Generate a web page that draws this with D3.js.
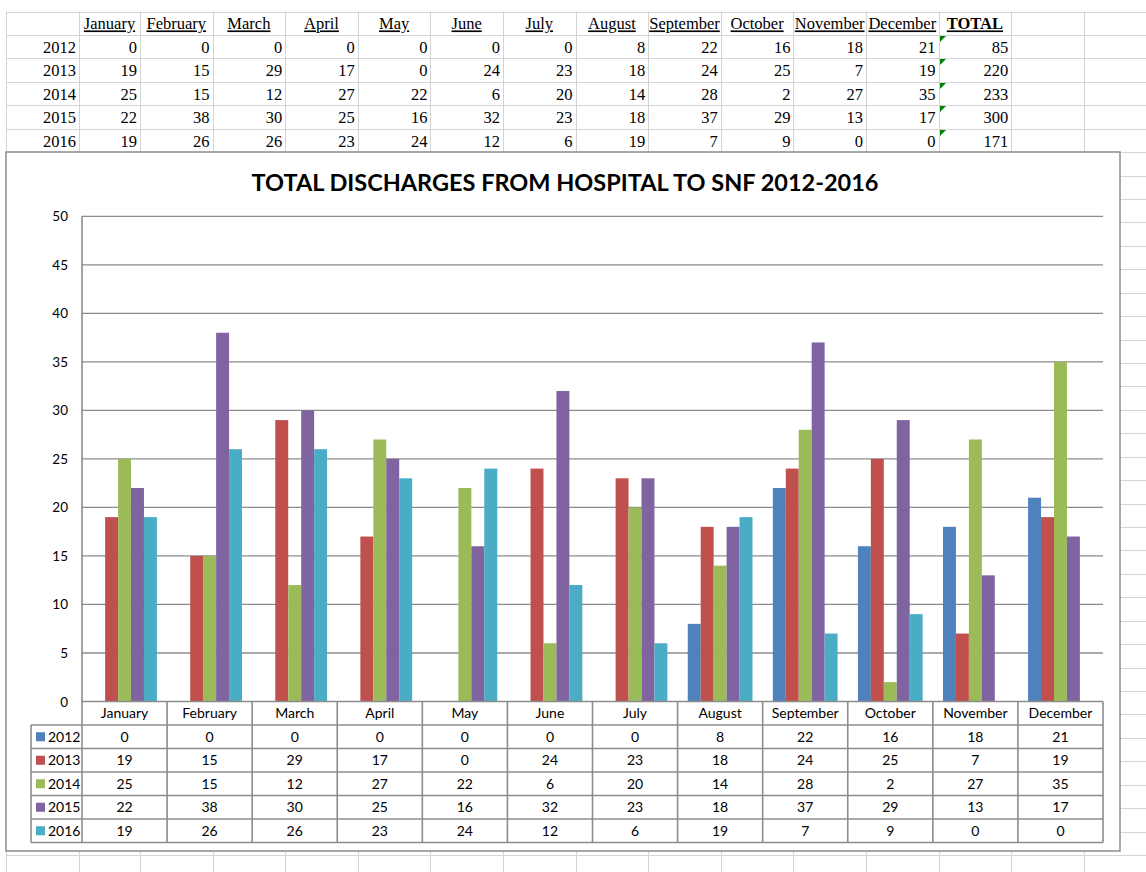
<!DOCTYPE html>
<html><head><meta charset="utf-8">
<script src="https://cdn.jsdelivr.net/npm/d3@7"></script>
<style>body{margin:0;background:#fff}svg{display:block}</style>
</head><body>
<svg id="c" width="1146" height="872"></svg>
<script>
const months = ["January","February","March","April","May","June","July","August","September","October","November","December"];
const years = ["2012","2013","2014","2015","2016"];
const v2012 = [0,0,0,0,0,0,0,8,22,16,18,21];
const v2013 = [19,15,29,17,0,24,23,18,24,25,7,19];
const v2014 = [25,15,12,27,22,6,20,14,28,2,27,35];
const v2015 = [22,38,30,25,16,32,23,18,37,29,13,17];
const v2016 = [19,26,26,23,24,12,6,19,7,9,0,0];
const totals = [85,220,233,300,171];
const yTicks = [0,5,10,15,20,25,30,35,40,45,50];
const colors = ["#4F81BD","#C0504D","#9BBB59","#8064A2","#4BACC6"];
const title = "TOTAL DISCHARGES FROM HOSPITAL TO SNF 2012-2016";
const series = [v2012,v2013,v2014,v2015,v2016];

const svg = d3.select("#c");
const W = 1146, H = 872;

// ---- spreadsheet grid ----
const colEdges = [6,79,140];
for (let k=1;k<=14;k++) colEdges.push(140+72.6*k);
const rowStep = 23.43, row0 = 11.5;
const grid = svg.append("g").attr("stroke","#d4d4d4").attr("stroke-width",1);
for (let r=0; row0 + r*rowStep < H; r++) {
  const y = Math.round(row0 + r*rowStep)+0.5;
  grid.append("line").attr("x1",6).attr("x2",W).attr("y1",y).attr("y2",y);
}
colEdges.forEach(x=>{
  grid.append("line").attr("x1",Math.round(x)+0.5).attr("x2",Math.round(x)+0.5).attr("y1",row0).attr("y2",H);
});

const sheet = svg.append("g").style("font-family","'Liberation Serif','Times New Roman',serif").style("font-size","16.5px").attr("fill","#000");
// headers
months.forEach((m,i)=>{
  const x = (colEdges[i+1]+colEdges[i+2])/2;
  sheet.append("text").attr("x",x).attr("y",row0+rowStep-5.5).attr("text-anchor","middle")
    .style("text-decoration","underline").text(m);
});
sheet.append("text").attr("x",(colEdges[13]+colEdges[14])/2).attr("y",row0+rowStep-5.5).attr("text-anchor","middle")
  .style("text-decoration","underline").style("font-weight","bold").text("TOTAL");
years.forEach((yr,r)=>{
  const by = row0 + (r+2)*rowStep - 5.5;
  sheet.append("text").attr("x",colEdges[1]-3).attr("y",by).attr("text-anchor","end").text(yr);
  series[r].forEach((v,i)=>{
    sheet.append("text").attr("x",colEdges[i+2]-3).attr("y",by).attr("text-anchor","end").text(v);
  });
  sheet.append("text").attr("x",colEdges[14]-3).attr("y",by).attr("text-anchor","end").text(totals[r]);
  const tx = Math.round(colEdges[13])+1, ty = Math.round(row0+(r+1)*rowStep)+1;
  svg.append("path").attr("d",`M${tx},${ty}L${tx+6},${ty}L${tx},${ty+6}Z`).attr("fill","#008000");
});

// ---- chart ----
const chart = svg.append("g").style("font-family","Lato,'Noto Sans',sans-serif").attr("fill","#000");
chart.append("rect").attr("x",6).attr("y",152).attr("width",1114).attr("height",699)
  .attr("fill","#fff").attr("stroke","#8c8c8c").attr("stroke-width",1.5);

chart.append("text").attr("x",565).attr("y",191).attr("text-anchor","middle")
  .style("font-size","23.5px").style("font-weight","bold").text(title);

const x0 = d3.scaleBand().domain(months).range([82,1103]).paddingInner(0).paddingOuter(0);
const step = x0.bandwidth();
const bw = step/6.57;
const x1 = d3.scaleBand().domain(years).range([(step-5*bw)/2,(step+5*bw)/2]);
const y = d3.scaleLinear().domain([0,50]).range([701.5,216.3]);

// gridlines
chart.append("g").selectAll("line").data(yTicks.filter(t=>t>0)).join("line")
  .attr("x1",82).attr("x2",1103).attr("y1",d=>y(d)).attr("y2",d=>y(d))
  .attr("stroke","#8c8c8c").attr("stroke-width",1.3);
// y labels
chart.append("g").selectAll("text").data(yTicks).join("text")
  .attr("x",68).attr("y",d=>y(d)+5).attr("text-anchor","end").style("font-size","13.5px").text(d=>d);

// bars
years.forEach((yr,s)=>{
  chart.append("g").attr("fill",colors[s]).selectAll("rect").data(series[s]).join("rect")
    .attr("x",(d,i)=>x0(months[i])+x1(yr)).attr("width",x1.bandwidth())
    .attr("y",d=>y(d)).attr("height",d=>y(0)-y(d));
});

// data table
const tTop = 701.5, rh = 23.5;
const tb = chart.append("g").attr("stroke","#8c8c8c").attr("stroke-width",1.6).attr("fill","none");
tb.append("line").attr("x1",82).attr("x2",1103).attr("y1",tTop).attr("y2",tTop);
for (let r=1;r<=6;r++){
  tb.append("line").attr("x1",31).attr("x2",1103).attr("y1",tTop+r*rh).attr("y2",tTop+r*rh);
}
tb.append("line").attr("x1",31).attr("x2",31).attr("y1",tTop+rh).attr("y2",tTop+6*rh);
tb.append("line").attr("x1",82).attr("x2",82).attr("y1",216.3).attr("y2",tTop+6*rh);
months.forEach(m=>{
  const xe = x0(m)+step;
  tb.append("line").attr("x1",xe).attr("x2",xe).attr("y1",tTop).attr("y2",tTop+6*rh);
});
const tt = chart.append("g").style("font-size","14px");
months.forEach((m,i)=>{
  const cx = x0(m)+step/2;
  tt.append("text").attr("x",cx).attr("y",tTop+rh/2+5).attr("text-anchor","middle").text(m);
  years.forEach((yr,s)=>{
    tt.append("text").attr("x",cx).attr("y",tTop+(s+1)*rh+rh/2+5).attr("text-anchor","middle").text(series[s][i]);
  });
});
years.forEach((yr,s)=>{
  const cy = tTop+(s+1)*rh+rh/2;
  tt.append("rect").attr("x",36).attr("y",cy-4.5).attr("width",9).attr("height",9).attr("fill",colors[s]);
  tt.append("text").attr("x",48).attr("y",cy+5).text(yr);
});
</script>
</body></html>
